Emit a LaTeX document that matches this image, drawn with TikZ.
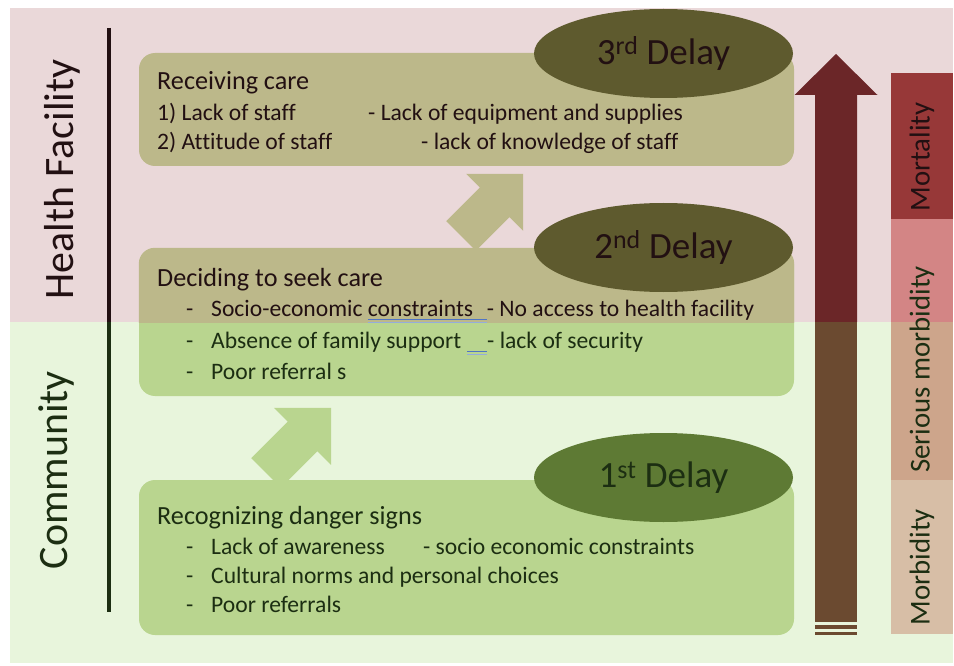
\documentclass[tikz,border=0pt]{standalone}
\usepackage{fontspec}
\setmainfont{Carlito}[Ligatures={NoCommon}]
\usetikzlibrary{shapes.geometric}

\definecolor{pinkbg}{HTML}{EAD8D9}
\definecolor{greenbg}{HTML}{E8F5DC}
\definecolor{tanbox}{HTML}{BCB88A}
\definecolor{greenbox}{HTML}{B9D58F}
\definecolor{olivedark}{HTML}{5E5A2E}
\definecolor{greendark}{HTML}{5E7A34}
\definecolor{inkred}{HTML}{221012}
\definecolor{inkgreen}{HTML}{1C2E12}
\definecolor{arrowred}{HTML}{6B2628}
\definecolor{arrowbrown}{HTML}{6B4A30}
\definecolor{mortred}{HTML}{973838}
\definecolor{serpink}{HTML}{D38585}
\definecolor{sertan}{HTML}{CDA58B}
\definecolor{morbtan}{HTML}{D7BEA6}
\definecolor{ulblue}{HTML}{4F74C4}

\newcommand\gramline[1]{\leavevmode\setbox0=\hbox{#1}%
  \rlap{\color{ulblue}\rule[-4pt]{\wd0}{0.7pt}}%
  \rlap{\color{ulblue!60}\rule[-6.5pt]{\wd0}{0.7pt}}\box0}

\begin{document}
\begin{tikzpicture}[
x=1pt,y=-1pt,
delaybox/.style={
  rounded corners=16pt,
  minimum width=655pt,
  inner sep=0pt
  },
delaytag/.style={
  ellipse,
  minimum width=259pt,
  minimum height=89pt,
  inner sep=0pt,
  font=\fontsize{37}{40}\selectfont
  },
headtext/.style={anchor=base west,inner sep=0pt,font=\fontsize{26.2}{30}\selectfont},
bodytext/.style={anchor=base west,inner sep=0pt,font=\fontsize{23.6}{28}\selectfont},
sidetext/.style={rotate=90,anchor=base,inner sep=0pt,font=\fontsize{41.9}{46}\selectfont},
bartext/.style={rotate=90,inner sep=0pt,font=\fontsize{28.8}{32}\selectfont}
]
\fill[white] (0,0) rectangle (954,666);
% two levels
\fill[pinkbg] (10,8) rectangle (953,322);
\fill[greenbg] (10,322) rectangle (953,663);

\draw[line width=3.5pt,inkred] (109,28) -- (109,322);
\draw[line width=3.5pt,inkgreen] (109,322) -- (109,612);
\node[sidetext,text=inkred] (facility) at (73,179.5) {Health Facility};
\node[sidetext,text=inkgreen] (community) at (67,470) {Community};

% small arrows between the boxes
\foreach \tx/\ty/\len/\col in {266/473/92/greenbox,461/236/88/tanbox}
  \fill[\col,shift={(\tx,\ty)},rotate=45]
    (0,-21) -- (\len-40.3,-21) -- (\len-40.3,-40.3) -- (\len,0)
    -- (\len-40.3,40.3) -- (\len-40.3,21) -- (0,21) -- cycle;

\node[delaybox,fill=tanbox,minimum height=113pt] (care) at (466.5,109.5) {};
\node[delaybox,fill=greenbox,minimum height=148pt] (decide) at (466.5,322) {};
\begin{scope}
\clip (10,8) rectangle (953,322);
\fill[tanbox,rounded corners=16pt] (decide.north west) rectangle (decide.south east);
\end{scope}
\node[delaybox,fill=greenbox,minimum height=155pt] (recognize) at (466.5,557.5) {};

\node[delaytag,fill=olivedark,text=inkred] (third) at (663.5,53.5) {3\textsuperscript{rd} Delay};
\node[delaytag,fill=olivedark,text=inkred] (second) at (663.5,247.5) {2\textsuperscript{nd} Delay};
\node[delaytag,fill=greendark,text=inkgreen] (first) at (663.5,477.5) {1\textsuperscript{st} Delay};

% box texts
\node[headtext,text=inkred] (care0) at (157,90) {Receiving care};
\node[bodytext,text=inkred] (care1) at (157,121) {\makebox[211pt][l]{1) Lack of staff}- Lack of equipment and supplies};
\node[bodytext,text=inkred] (care2) at (157,150) {\makebox[264pt][l]{2) Attitude of staff}- lack of knowledge of staff};

\node[headtext,text=inkred] (decide0) at (157,287) {Deciding to seek care};
\node[bodytext,text=inkred] (decide1) at (186,316) {\makebox[25pt][l]{-}Socio-economic \gramline{\makebox[119pt][l]{constraints}}- No access to health facility};
\node[bodytext,text=inkgreen] (decide2) at (186,348) {\makebox[25pt][l]{-}\makebox[256pt][l]{Absence of family support}\gramline{\makebox[20pt]{}}- lack of security};
\node[bodytext,text=inkgreen] (decide3) at (186,379) {\makebox[25pt][l]{-}Poor referral s};

\node[headtext,text=inkgreen] (recognize0) at (157,524) {Recognizing danger signs};
\node[bodytext,text=inkgreen] (recognize1) at (186,554) {\makebox[25pt][l]{-}\makebox[212pt][l]{Lack of awareness}- socio economic constraints};
\node[bodytext,text=inkgreen] (recognize2) at (186,583) {\makebox[25pt][l]{-}Cultural norms and personal choices};
\node[bodytext,text=inkgreen] (recognize3) at (186,612) {\makebox[25pt][l]{-}Poor referrals};

% big arrow
\fill[arrowred] (815,322) -- (815,95) -- (794.5,95) -- (836,54) -- (877.5,95) -- (857,95) -- (857,322) -- cycle;
\fill[arrowbrown] (815,322) rectangle (857,622);
\fill[arrowbrown] (815,624.5) rectangle (857,628.5);
\fill[arrowbrown] (815,632) rectangle (857,635);

% outcome bar
\fill[mortred] (891,73) rectangle (953,219);
\fill[serpink] (891,219) rectangle (953,322);
\fill[sertan] (891,322) rectangle (953,480);
\fill[morbtan] (891,480) rectangle (953,634);
\node[bartext,text=inkred] (mortality) at (922,157) {Mortality};
\node[bartext,text=inkgreen] (serious) at (922,369.5) {Serious morbidity};
\node[bartext,text=inkgreen] (morbidity) at (922,567) {Morbidity};
\end{tikzpicture}
\end{document}
